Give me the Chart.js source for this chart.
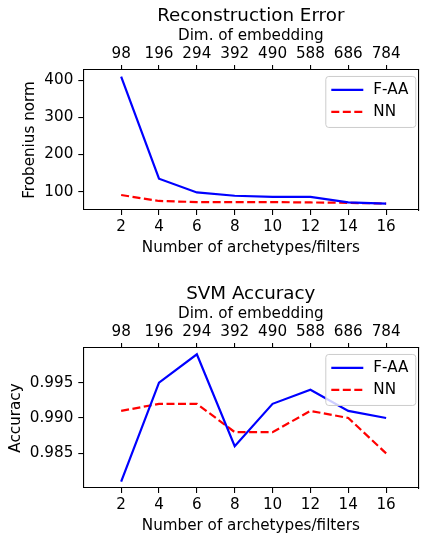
<!DOCTYPE html>
<html>
<head>
<meta charset="utf-8">
<script src="https://cdn.jsdelivr.net/npm/chart.js@4"></script>
<style>
  body { margin: 0; background: #fff; }
  .wrap { position: absolute; left: 0; width: 423px; height: 257px; }
</style>
</head>
<body>
<div class="wrap" style="top:0"><canvas id="recon"></canvas></div>
<div class="wrap" style="top:278px"><canvas id="svm"></canvas></div>
<script>
var archetypes = [2, 4, 6, 8, 10, 12, 14, 16];
var dimTicks = [98, 196, 294, 392, 490, 588, 686, 784];

var reconFAA = [410, 135, 98, 89, 86, 86, 71, 68];
var reconNN = [91, 75, 72, 72, 72, 71, 70, 68];
var reconYTicks = [100, 200, 300, 400];

var svmFAA = [0.981, 0.995, 0.999, 0.986, 0.992, 0.994, 0.991, 0.990];
var svmNN = [0.991, 0.992, 0.992, 0.988, 0.988, 0.991, 0.990, 0.985];
var svmYTicks = [0.985, 0.990, 0.995];

var FONT = "'DejaVu Sans'";
Chart.defaults.font.family = FONT;
Chart.defaults.color = "#000";

function pts(ys) {
  return archetypes.map(function(x, i) { return { x: x, y: ys[i] }; });
}

// matplotlib style legend in upper right of the axes
var boxLegend = {
  id: "boxLegend",
  afterDraw: function(chart) {
    var ctx = chart.ctx, a = chart.chartArea;
    var w = 90, h = 51;
    var x0 = a.right - 3 - w, y0 = a.top + 6;
    ctx.save();
    ctx.fillStyle = "rgba(255,255,255,0.8)";
    ctx.strokeStyle = "#cccccc";
    ctx.lineWidth = 1;
    ctx.beginPath();
    ctx.roundRect(x0 + 0.5, y0 + 0.5, w, h, 3);
    ctx.fill();
    ctx.stroke();
    chart.data.datasets.forEach(function(ds, i) {
      var y = y0 + 14 + i * 22;
      ctx.strokeStyle = ds.borderColor;
      ctx.lineWidth = ds.borderWidth;
      ctx.setLineDash(ds.borderDash || []);
      ctx.beginPath();
      ctx.moveTo(x0 + 6, y);
      ctx.lineTo(x0 + 38, y);
      ctx.stroke();
      ctx.setLineDash([]);
      ctx.fillStyle = "#000";
      ctx.font = "15.2px " + FONT;
      ctx.textBaseline = "middle";
      ctx.fillText(ds.label, x0 + 48, y);
    });
    ctx.restore();
  }
};

function makeChart(id, title, faa, nn, yMin, yMax, yTicks, yTitle, yTitlePad, yFmt) {
  var tickFont = { size: 15.2 };
  var axisGrid = { drawOnChartArea: false, drawTicks: true, tickLength: 5, lineWidth: 1.1, color: "#000", tickColor: "#000" };
  var axisBorder = { display: true, color: "#000", width: 1.1 };
  var xTicks = function(axis) { axis.ticks = archetypes.map(function(v) { return { value: v }; }); };

  return new Chart(document.getElementById(id), {
    type: "line",
    data: {
      datasets: [{
        label: "F-AA",
        data: pts(faa),
        borderColor: "#0000ff",
        borderWidth: 2.2,
        pointRadius: 0,
        fill: false,
        tension: 0
      }, {
        label: "NN",
        data: pts(nn),
        borderColor: "#ff0000",
        borderWidth: 2.2,
        borderDash: [8, 3.5],
        pointRadius: 0,
        fill: false,
        tension: 0
      }]
    },
    options: {
      responsive: true,
      maintainAspectRatio: false,
      animation: false,
      layout: { padding: 0 },
      plugins: {
        legend: { display: false },
        tooltip: { enabled: false },
        title: {
          display: true,
          text: title,
          fullSize: false,
          font: { size: 18.3, weight: "normal" },
          padding: { top: 5, bottom: 0 }
        }
      },
      scales: {
        x: {
          type: "linear",
          position: "bottom",
          min: 0, max: 17.7,
          afterBuildTicks: xTicks,
          afterFit: function(s) { s.height = 47; },
          grid: axisGrid,
          border: axisBorder,
          ticks: { font: tickFont, padding: 3, maxRotation: 0 },
          title: { display: true, text: "Number of archetypes/filters", font: tickFont, padding: 0 }
        },
        x2: {
          type: "linear",
          position: "top",
          min: 0, max: 17.7,
          afterBuildTicks: xTicks,
          afterFit: function(s) { s.height = 43; },
          grid: axisGrid,
          border: axisBorder,
          ticks: {
            font: tickFont, padding: 2, maxRotation: 0,
            callback: function(v) { return dimTicks[archetypes.indexOf(v)]; }
          },
          title: { display: true, text: "Dim. of embedding", font: tickFont, padding: 0 }
        },
        y: {
          type: "linear",
          position: "left",
          min: yMin, max: yMax,
          afterBuildTicks: function(axis) { axis.ticks = yTicks.map(function(v) { return { value: v }; }); },
          afterFit: function(s) { s.width = 83.3; },
          grid: axisGrid,
          border: axisBorder,
          ticks: { font: tickFont, padding: 5, callback: yFmt },
          title: { display: true, text: yTitle, font: tickFont, padding: { top: yTitlePad, bottom: 0 } }
        },
        y2: {
          type: "linear",
          position: "right",
          min: yMin, max: yMax,
          afterFit: function(s) { s.width = 4.7; },
          grid: { drawOnChartArea: false, drawTicks: false },
          border: axisBorder,
          ticks: { display: false }
        }
      }
    },
    plugins: [boxLegend]
  });
}

makeChart("recon", "Reconstruction Error", reconFAA, reconNN, 50.7, 427.7, reconYTicks,
  "Frobenius norm", 21, function(v) { return v; });
makeChart("svm", "SVM Accuracy", svmFAA, svmNN, 0.9801, 0.9999, svmYTicks,
  "Accuracy", 7, function(v) { return v.toFixed(3); });
</script>
</body>
</html>
